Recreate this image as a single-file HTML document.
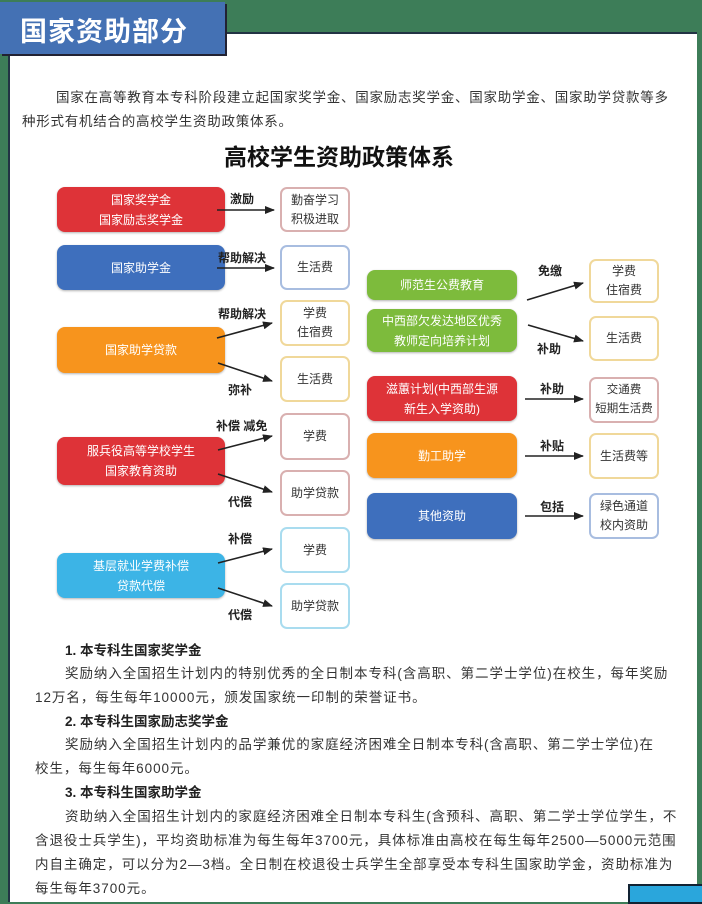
<!DOCTYPE html>
<html><head><meta charset="utf-8"><style>
*{margin:0;padding:0;box-sizing:border-box}
body{width:702px;height:896px;position:relative;overflow:hidden;background:#3d7d58;font-family:"Liberation Sans","Noto Sans CJK SC",sans-serif}
.panel{position:absolute;left:8px;top:32px;width:689px;height:870px;background:#fff;border-left:2px solid #234;border-top:2px solid #234}
.tab{position:absolute;left:0;top:2px;width:225px;height:52px;background:#4471b4;color:#fff;font-size:27px;font-weight:bold;padding:8px 0 0 20px;letter-spacing:1px;box-shadow:2px 2px 0 #223}
.a{position:absolute}
.t{position:absolute;font-size:13.5px;color:#333;white-space:nowrap}
.p{letter-spacing:0.95px}
.b{position:absolute;border-radius:8px;color:#fff;font-size:12px;display:flex;align-items:center;justify-content:center;text-align:center;line-height:20px;box-shadow:0 1px 2px rgba(0,0,0,.3)}
.s{position:absolute;border-radius:7px;background:#fff;font-size:12px;color:#333;display:flex;align-items:center;justify-content:center;text-align:center;line-height:19px;border:2px solid #ccc}
.l{position:absolute;font-size:12px;font-weight:bold;color:#222}
.h{font-weight:bold}
</style></head><body>
<div class="panel"></div>
<div class="tab">国家资助部分</div>
<div class="t" style="left:56px;top:86px;letter-spacing:0.75px">国家在高等教育本专科阶段建立起国家奖学金、国家励志奖学金、国家助学金、国家助学贷款等多</div>
<div class="t" style="left:22px;top:110px;letter-spacing:0.75px">种形式有机结合的高校学生资助政策体系。</div>
<div class="t" style="left:224px;top:138px;font-size:23px;font-weight:bold;color:#111">高校学生资助政策体系</div>

<div class="b" style="left:57px;top:187px;width:168px;height:45px;background:#de3338">国家奖学金<br>国家励志奖学金</div>
<div class="b" style="left:57px;top:245px;width:168px;height:45px;background:#3e6fbd">国家助学金</div>
<div class="b" style="left:57px;top:327px;width:168px;height:46px;background:#f7941d">国家助学贷款</div>
<div class="b" style="left:57px;top:437px;width:168px;height:48px;background:#de3338">服兵役高等学校学生<br>国家教育资助</div>
<div class="b" style="left:57px;top:553px;width:168px;height:45px;background:#3cb4e6">基层就业学费补偿<br>贷款代偿</div>

<div class="s" style="left:280px;top:187px;width:70px;height:45px;border-color:#d9b0b0">勤奋学习<br>积极进取</div>
<div class="s" style="left:280px;top:245px;width:70px;height:45px;border-color:#a8bde0">生活费</div>
<div class="s" style="left:280px;top:300px;width:70px;height:46px;border-color:#f0d89a">学费<br>住宿费</div>
<div class="s" style="left:280px;top:356px;width:70px;height:46px;border-color:#f0d89a">生活费</div>
<div class="s" style="left:280px;top:413px;width:70px;height:47px;border-color:#d9b0b0">学费</div>
<div class="s" style="left:280px;top:470px;width:70px;height:46px;border-color:#d9b0b0">助学贷款</div>
<div class="s" style="left:280px;top:527px;width:70px;height:46px;border-color:#a9dcef">学费</div>
<div class="s" style="left:280px;top:583px;width:70px;height:46px;border-color:#a9dcef">助学贷款</div>

<div class="b" style="left:367px;top:270px;width:150px;height:30px;background:#7dbb3c">师范生公费教育</div>
<div class="b" style="left:367px;top:309px;width:150px;height:43px;background:#7dbb3c">中西部欠发达地区优秀<br>教师定向培养计划</div>
<div class="b" style="left:367px;top:376px;width:150px;height:45px;background:#de3338">滋蕙计划(中西部生源<br>新生入学资助)</div>
<div class="b" style="left:367px;top:433px;width:150px;height:45px;background:#f7941d">勤工助学</div>
<div class="b" style="left:367px;top:493px;width:150px;height:46px;background:#3e6fbd">其他资助</div>

<div class="s" style="left:589px;top:259px;width:70px;height:44px;border-color:#f0d89a">学费<br>住宿费</div>
<div class="s" style="left:589px;top:316px;width:70px;height:45px;border-color:#f0d89a">生活费</div>
<div class="s" style="left:589px;top:377px;width:70px;height:46px;border-color:#d9b0b0;font-size:11.5px">交通费<br>短期生活费</div>
<div class="s" style="left:589px;top:433px;width:70px;height:46px;border-color:#f0d89a">生活费等</div>
<div class="s" style="left:589px;top:493px;width:70px;height:46px;border-color:#a8bde0">绿色通道<br>校内资助</div>

<svg class="a" style="left:0;top:0" width="702" height="896">
<defs><marker id="m" markerWidth="10" markerHeight="8" refX="9" refY="4" orient="auto" markerUnits="userSpaceOnUse"><path d="M0,0 L10,4 L0,8 Z" fill="#222"/></marker></defs>
<g stroke="#222" stroke-width="1.6" marker-end="url(#m)">
<line x1="217" y1="210" x2="274" y2="210"/>
<line x1="217" y1="268" x2="274" y2="268"/>
<line x1="217" y1="338" x2="272" y2="323"/>
<line x1="218" y1="363" x2="272" y2="381"/>
<line x1="218" y1="450" x2="272" y2="436"/>
<line x1="218" y1="474" x2="272" y2="492"/>
<line x1="218" y1="563" x2="272" y2="549"/>
<line x1="218" y1="588" x2="272" y2="606"/>
<line x1="527" y1="300" x2="583" y2="283"/>
<line x1="528" y1="325" x2="583" y2="341"/>
<line x1="525" y1="399" x2="583" y2="399"/>
<line x1="525" y1="456" x2="583" y2="456"/>
<line x1="525" y1="516" x2="583" y2="516"/>
</g></svg>
<div class="l" style="left:230px;top:190px">激励</div>
<div class="l" style="left:218px;top:249px">帮助解决</div>
<div class="l" style="left:218px;top:305px">帮助解决</div>
<div class="l" style="left:228px;top:381px">弥补</div>
<div class="l" style="left:216px;top:417px">补偿 减免</div>
<div class="l" style="left:228px;top:493px">代偿</div>
<div class="l" style="left:228px;top:530px">补偿</div>
<div class="l" style="left:228px;top:606px">代偿</div>
<div class="l" style="left:538px;top:262px">免缴</div>
<div class="l" style="left:537px;top:340px">补助</div>
<div class="l" style="left:540px;top:380px">补助</div>
<div class="l" style="left:540px;top:437px">补贴</div>
<div class="l" style="left:540px;top:498px">包括</div>

<div class="t h" style="left:65px;top:639px;color:#222">1. 本专科生国家奖学金</div>
<div class="t p" style="left:65px;top:662px">奖励纳入全国招生计划内的特别优秀的全日制本专科(含高职、第二学士学位)在校生，每年奖励</div>
<div class="t p" style="left:35px;top:686px">12万名，每生每年10000元，颁发国家统一印制的荣誉证书。</div>
<div class="t h" style="left:65px;top:710px;color:#222">2. 本专科生国家励志奖学金</div>
<div class="t p" style="left:65px;top:733px">奖励纳入全国招生计划内的品学兼优的家庭经济困难全日制本专科(含高职、第二学士学位)在</div>
<div class="t p" style="left:35px;top:757px">校生，每生每年6000元。</div>
<div class="t h" style="left:65px;top:781px;color:#222">3. 本专科生国家助学金</div>
<div class="t p" style="left:65px;top:805px">资助纳入全国招生计划内的家庭经济困难全日制本专科生(含预科、高职、第二学士学位学生，不</div>
<div class="t p" style="left:35px;top:829px">含退役士兵学生)，平均资助标准为每生每年3700元，具体标准由高校在每生每年2500—5000元范围</div>
<div class="t p" style="left:35px;top:853px">内自主确定，可以分为2—3档。全日制在校退役士兵学生全部享受本专科生国家助学金，资助标准为</div>
<div class="t p" style="left:35px;top:877px">每生每年3700元。</div>
<div class="a" style="left:628px;top:884px;width:80px;height:20px;background:#2aa6dc;border:2px solid #123"></div>
</body></html>
